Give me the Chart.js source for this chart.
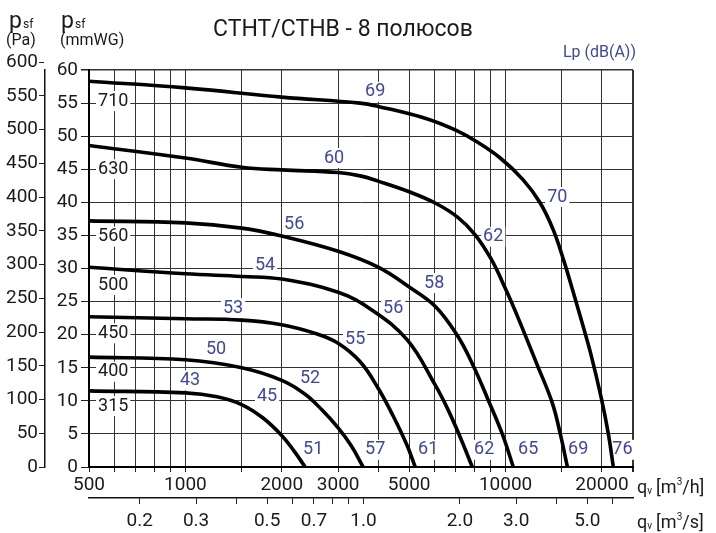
<!DOCTYPE html>
<html>
<head>
<meta charset="utf-8">
<script src="https://cdn.jsdelivr.net/npm/chart.js@4.4.1/dist/chart.umd.min.js"></script>
<style>
  html, body { margin: 0; padding: 0; background: #fff; }
</style>
</head>
<body>
<canvas id="fanChart" width="716" height="533"></canvas>
<script>
// ------------------- DATA -------------------
// airflow qv in m3/h, static pressure psf in mmWG
const sizes = ["315", "400", "450", "500", "560", "630", "710"];

const q315 = [500, 1000, 1256, 1503, 1748, 2005, 2186, 2366];
const p315 = [11.5, 11.2, 10.6, 9.4, 7.4, 4.7, 2.4, 0];

const q400 = [500, 1000, 1500, 2000, 2366, 2673, 3000, 3296, 3590];
const p400 = [16.6, 16.2, 15.0, 13.1, 11.0, 8.6, 5.9, 3.2, 0];

const q450 = [500, 1000, 1500, 2000, 2579, 3000, 3515, 4000, 4456, 4930, 5220];
const p450 = [22.7, 22.4, 22.2, 21.5, 20.1, 18.7, 15.9, 11.9, 7.7, 3.2, 0];

const q500 = [500, 1000, 1500, 2000, 3000, 3830, 4930, 6025, 6620, 7217, 7870];
const p500 = [30.2, 29.2, 28.8, 28.4, 26.4, 23.7, 19.2, 12.4, 8.6, 4.5, 0];

const q560 = [500, 1000, 1500, 2000, 3000, 4000, 5000, 6025, 7063, 7925, 8830, 9765, 10570];
const p560 = [37.2, 36.9, 36.1, 34.9, 32.6, 30.2, 27.2, 24.3, 19.9, 15.3, 10.1, 5.0, 0];

const q630 = [500, 1000, 1500, 2000, 3000, 3515, 4000, 5000, 6025, 7063, 8035, 9020, 9977, 10950, 12560, 13990, 14820, 15600];
const p630 = [48.6, 46.7, 45.3, 44.9, 44.5, 44.0, 43.2, 41.6, 39.9, 37.8, 35.1, 31.4, 27.0, 22.5, 15.4, 9.7, 5.0, 0];

const q710 = [500, 1000, 2000, 3515, 4000, 5700, 7063, 8035, 9620, 11350, 12830, 14100, 15240, 16270, 17240, 18520, 19905, 20940, 21700];
const p710 = [58.3, 57.3, 55.9, 55.0, 54.5, 52.6, 50.8, 49.3, 46.7, 43.4, 39.9, 35.8, 31.0, 26.4, 22.2, 16.8, 10.4, 5.0, 0];

const curveQ = [q315, q400, q450, q500, q560, q630, q710];
const curveP = [p315, p400, p450, p500, p560, p630, p710];

// fan size labels (anchor in data units)
const sizeQ = 595;
const sizeP = [9.2, 14.4, 20.2, 27.5, 34.8, 45.0, 55.3];

// sound level labels Lp dB(A)
const dbText = ["69", "60", "70", "56", "62", "54", "58", "53", "56", "55", "50", "52", "43", "45",
                "51", "57", "61", "62", "65", "69", "76"];
const dbQ = [3915, 2914, 14500, 2186, 9150, 1774, 5985, 1409, 4456, 3390, 1247, 2452, 1034, 1800,
             2506, 3915, 5730, 8577, 11760, 16860, 23170];
const dbP = [56.7, 46.7, 40.8, 36.7, 34.8, 30.4, 27.8, 24.0, 24.0, 19.2, 17.8, 13.4, 13.1, 10.6,
             2.6, 2.6, 2.6, 2.6, 2.6, 2.6, 2.6];

// axes
const flowMin = 500, flowMax = 25000;
const flowTicks = [500, 600, 700, 800, 900, 1000, 1500, 2000, 3000, 4000, 5000, 6000, 7000, 8000, 9000, 10000, 15000, 20000, 25000];
const flowLabels = [500, 1000, 2000, 3000, 5000, 10000, 20000];
const flowSecTicks = [0.2, 0.3, 0.4, 0.5, 0.6, 0.7, 0.8, 0.9, 1, 2, 3, 4, 5, 6];
const flowSecLabels = [0.2, 0.3, 0.5, 0.7, 1, 2, 3, 5];
const mmMax = 60;
const paTicks = [0, 50, 100, 150, 200, 250, 300, 350, 400, 450, 500, 550, 600];
const PA_PER_MM = 9.80665;

// ------------------- STYLE -------------------
const BLUE = "#3d47a5";
const INK = "#1a1a1a";
const FONT = "Roboto, 'DejaVu Sans', sans-serif";

Chart.defaults.font.family = FONT;
Chart.defaults.color = INK;

function boxedText(ctx, text, x, y, color) {
  const w = ctx.measureText(text).width;
  ctx.fillStyle = "#fff";
  ctx.fillRect(x - w / 2 - 2, y - 10, w + 4, 20);
  ctx.fillStyle = color;
  ctx.fillText(text, x, y);
}

// labels under the curves, over the grid
const curveLabels = {
  id: "curveLabels",
  beforeDatasetsDraw(chart) {
    const { ctx } = chart;
    const xs = chart.scales.x, ys = chart.scales.y;
    ctx.save();
    ctx.textAlign = "center";
    ctx.textBaseline = "middle";
    ctx.font = "18px " + FONT;
    sizes.forEach((s, i) => {
      boxedText(ctx, s, xs.getPixelForValue(sizeQ), ys.getPixelForValue(sizeP[i]), INK);
    });
    dbText.forEach((t, i) => {
      boxedText(ctx, t, xs.getPixelForValue(dbQ[i]), ys.getPixelForValue(dbP[i]), BLUE);
    });
    ctx.restore();
  }
};

// titles and unit labels
const unitLabels = {
  id: "unitLabels",
  afterDraw(chart) {
    const { ctx } = chart;
    ctx.save();
    ctx.fillStyle = INK;
    ctx.textBaseline = "alphabetic";

    ctx.font = "23px " + FONT;
    ctx.textAlign = "center";
    ctx.fillText("CTHT/CTHB - 8 полюсов", 343, 36);

    ctx.textAlign = "left";
    // p_sf (Pa) / p_sf (mmWG)
    ctx.font = "23px " + FONT;
    ctx.fillText("p", 9, 28);
    ctx.fillText("p", 61, 28);
    ctx.font = "12px " + FONT;
    ctx.fillText("sf", 23, 28);
    ctx.fillText("sf", 75, 28);
    ctx.font = "16px " + FONT;
    ctx.fillText("(Pa)", 6, 45);
    ctx.fillText("(mmWG)", 60, 45);

    // qv axis units
    const drawQ = (unit, y) => {
      let x = 637;
      ctx.font = "18px " + FONT;
      ctx.fillText("q", x, y);
      x += ctx.measureText("q").width;
      ctx.font = "10px " + FONT;
      ctx.fillText("v", x, y + 1);
      x += ctx.measureText("v").width + 4;
      ctx.font = "18px " + FONT;
      ctx.fillText("[m", x, y);
      x += ctx.measureText("[m").width;
      ctx.font = "10px " + FONT;
      ctx.fillText("3", x, y - 8);
      x += ctx.measureText("3").width;
      ctx.font = "18px " + FONT;
      ctx.fillText(unit + "]", x, y);
    };
    drawQ("/h", 493);
    drawQ("/s", 528);

    ctx.fillStyle = BLUE;
    ctx.font = "16px " + FONT;
    ctx.textAlign = "right";
    ctx.fillText("Lp (dB(A))", 636, 57);
    ctx.restore();
  }
};

// ------------------- CHART -------------------
const ctx = document.getElementById("fanChart").getContext("2d");

const fanChart = new Chart(ctx, {
  type: "line",
  data: {
    datasets: sizes.map((s, i) => ({
      label: s,
      data: curveQ[i].map((q, j) => ({ x: q, y: curveP[i][j] })),
      borderColor: "#000",
      borderWidth: 3.6,
      pointRadius: 0,
      fill: false,
      tension: 0.4,
      xAxisID: "x",
      yAxisID: "y"
    }))
  },
  options: {
    responsive: false,
    animation: false,
    layout: { padding: { top: 70, left: 5, right: 83, bottom: 0 } },
    plugins: {
      legend: { display: false },
      tooltip: { enabled: false },
      title: { display: false }
    },
    scales: {
      x: {
        type: "logarithmic",
        position: "bottom",
        weight: 0,
        min: flowMin,
        max: flowMax,
        afterBuildTicks: (s) => { s.ticks = flowTicks.map(v => ({ value: v })); },
        afterFit: (s) => { s.height = 31; },
        grid: {
          color: "#333",
          lineWidth: (c) => (c.tick && c.tick.value === flowMax ? 2 : 1),
          tickLength: 5,
          tickColor: "#222"
        },
        border: { display: true, color: "#000", width: 2 },
        ticks: {
          autoSkip: false,
          maxRotation: 0,
          padding: 2,
          font: { size: 19 },
          color: INK,
          callback: (v) => (flowLabels.includes(v) ? String(v) : "")
        }
      },
      x2: {
        type: "logarithmic",
        position: "bottom",
        weight: 1,
        min: flowMin / 3600,
        max: flowMax / 3600,
        afterBuildTicks: (s) => { s.ticks = flowSecTicks.map(v => ({ value: v })); },
        afterFit: (s) => { s.height = 35; },
        grid: { drawOnChartArea: false, tickLength: 6, tickColor: "#222" },
        border: { display: true, color: "#111", width: 1.5 },
        ticks: {
          autoSkip: false,
          maxRotation: 0,
          padding: 6,
          font: { size: 19 },
          color: INK,
          callback: (v) => (flowSecLabels.includes(v) ? v.toFixed(1) : "")
        }
      },
      y: {
        type: "linear",
        position: "left",
        weight: 0,
        min: 0,
        max: mmMax,
        afterFit: (s) => { s.width = 44; },
        grid: {
          color: "#333",
          lineWidth: (c) => (c.tick && c.tick.value === mmMax ? 1.5 : 1),
          tickLength: 8,
          tickColor: "#222"
        },
        border: { display: true, color: "#000", width: 2 },
        ticks: { stepSize: 5, padding: 3, font: { size: 19 }, color: INK }
      },
      yPa: {
        type: "linear",
        position: "left",
        weight: 1,
        min: 0,
        max: mmMax * PA_PER_MM,
        afterBuildTicks: (s) => { s.ticks = paTicks.map(v => ({ value: v })); },
        afterFit: (s) => { s.width = 40; },
        grid: { drawOnChartArea: false, tickLength: 6, tickColor: "#222" },
        border: { display: true, color: "#111", width: 1.5 },
        ticks: { autoSkip: false, padding: 1, font: { size: 19 }, color: INK }
      }
    }
  },
  plugins: [curveLabels, unitLabels]
});
</script>
</body>
</html>
